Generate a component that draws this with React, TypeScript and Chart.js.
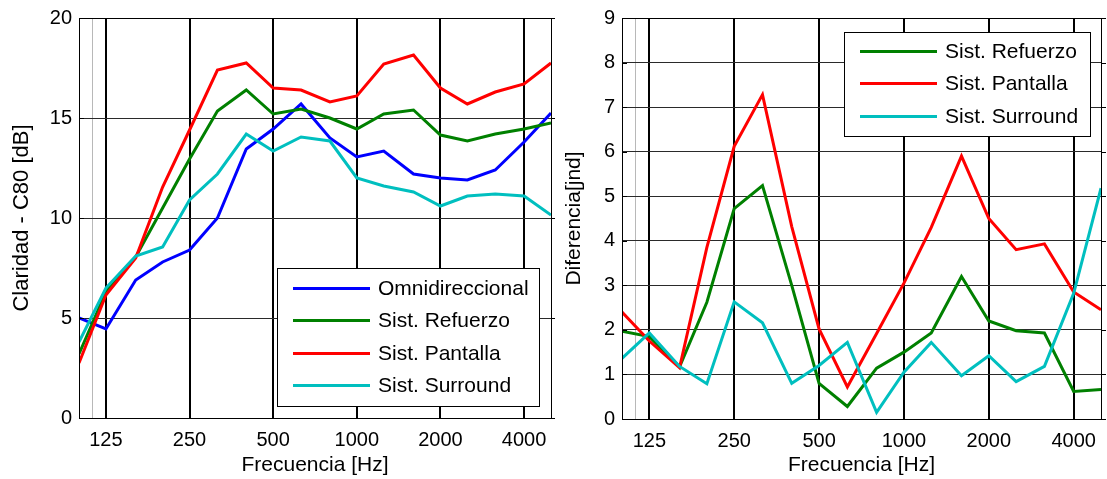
import React, { useEffect, useRef } from 'react';
import { Chart, registerables } from 'chart.js';

Chart.register(...registerables);

// ---------------- DATA ----------------
const frequencies = [100, 125, 160, 200, 250, 315, 400, 500, 630, 800, 1000, 1250, 1600, 2000, 2500, 3150, 4000, 5000];

const xTickValues = [112, 125, 250, 500, 1000, 2000, 4000];
const xTickLabels = ['', '125', '250', '500', '1000', '2000', '4000'];

// Left panel: Claridad - C80 [dB]
const c80Omni = [5.0, 4.45, 6.9, 7.8, 8.4, 10.0, 13.45, 14.45, 15.7, 14.0, 13.05, 13.35, 12.2, 12.0, 11.9, 12.4, 13.8, 15.25];
const c80Refuerzo = [3.2, 6.3, 8.05, 10.5, 12.95, 15.35, 16.4, 15.2, 15.45, 15.0, 14.45, 15.2, 15.4, 14.15, 13.85, 14.2, 14.45, 14.75];
const c80Pantalla = [2.75, 6.15, 8.0, 11.55, 14.4, 17.4, 17.75, 16.5, 16.4, 15.8, 16.1, 17.7, 18.15, 16.5, 15.7, 16.3, 16.7, 17.75];
const c80Surround = [3.8, 6.5, 8.1, 8.55, 10.9, 12.2, 14.2, 13.35, 14.05, 13.85, 12.0, 11.6, 11.3, 10.6, 11.1, 11.2, 11.1, 10.15];

// Right panel: Diferencia [jnd]
const difRefuerzo = [1.97, 1.85, 1.17, 2.62, 4.72, 5.24, 3.0, 0.8, 0.28, 1.14, 1.5, 1.93, 3.2, 2.2, 1.98, 1.93, 0.62, 0.66];
const difPantalla = [2.4, 1.75, 1.15, 3.85, 6.12, 7.28, 4.32, 2.02, 0.72, 1.92, 3.05, 4.3, 5.9, 4.5, 3.8, 3.93, 2.85, 2.45];
const difSurround = [1.36, 1.93, 1.18, 0.79, 2.63, 2.16, 0.8, 1.2, 1.72, 0.15, 1.05, 1.72, 0.97, 1.42, 0.84, 1.18, 2.82, 5.18];

const seriesLabels = ['Omnidireccional', 'Sist. Refuerzo', 'Sist. Pantalla', 'Sist. Surround'];
const seriesColors = ['#0000FF', '#008000', '#FF0000', '#00BFBF'];

// ---------------- STYLE ----------------
const FONT_FAMILY = "'Liberation Sans', Arial, Helvetica, sans-serif";
Chart.defaults.font.family = FONT_FAMILY;
Chart.defaults.color = '#000';

const framePlugin = {
  id: 'frame',
  afterDatasetsDraw(chart: any) {
    const { ctx, chartArea } = chart;
    const left = Math.round(chartArea.left);
    const right = Math.round(chartArea.right);
    const top = Math.round(chartArea.top);
    const bottom = Math.round(chartArea.bottom);
    ctx.save();
    ctx.strokeStyle = '#000';
    ctx.lineWidth = 1;
    ctx.strokeRect(left + 0.5, top + 0.5, right - left, bottom - top);
    const ys = chart.scales.y;
    ctx.beginPath();
    ys.ticks.forEach((t: any) => {
      const py = Math.round(ys.getPixelForValue(t.value)) + 0.5;
      ctx.moveTo(left, py);
      ctx.lineTo(left + 5, py);
      ctx.moveTo(right, py);
      ctx.lineTo(right + 5, py);
    });
    ctx.stroke();
    ctx.restore();
  },
};

const boxLegendPlugin = {
  id: 'boxLegend',
  afterDraw(chart: any, _args: any, opts: any) {
    const { ctx, chartArea } = chart;
    const w = opts.width;
    const h = opts.height;
    const x = Math.round(chartArea.right - opts.right - w);
    const y = Math.round(opts.top != null ? chartArea.top + opts.top : chartArea.bottom - opts.bottom - h);
    ctx.save();
    ctx.fillStyle = '#fff';
    ctx.fillRect(x, y, w, h);
    ctx.strokeStyle = '#000';
    ctx.lineWidth = 1;
    ctx.strokeRect(x + 0.5, y + 0.5, w, h);
    ctx.font = `${opts.fontSize}px ${FONT_FAMILY}`;
    ctx.textBaseline = 'middle';
    ctx.textAlign = 'left';
    chart.data.datasets.forEach((ds: any, i: number) => {
      const cy = Math.round(y + opts.firstRow + i * opts.rowGap) + 0.5;
      ctx.strokeStyle = ds.borderColor;
      ctx.lineWidth = 3;
      ctx.beginPath();
      ctx.moveTo(x + opts.lineStart, cy);
      ctx.lineTo(x + opts.lineEnd, cy);
      ctx.stroke();
      ctx.fillStyle = '#000';
      ctx.fillText(ds.label, x + opts.textStart, cy + 1);
    });
    ctx.restore();
  },
};

type PanelProps = {
  series: number[][];
  labels: string[];
  colors: string[];
  yMax: number;
  yStep: number;
  yTitle: string;
  yTitleSize: number;
  yAxisWidth: number;
  yTitlePad: number;
  xAxisHeight: number;
  padRight: number;
  legend: any;
  width: number;
  left: number;
};

function Panel(p: PanelProps) {
  const ref = useRef<HTMLCanvasElement | null>(null);
  useEffect(() => {
    if (!ref.current) return;
    const n = p.series.length;
    const datasets = p.series.map((vals, i) => ({
      label: p.labels[i],
      data: frequencies.map((f, k) => ({ x: f, y: vals[k] })),
      borderColor: p.colors[i],
      backgroundColor: p.colors[i],
      borderWidth: 3,
      pointRadius: 0,
      fill: false,
      tension: 0,
      order: n - 1 - i,
    }));
    const chart = new Chart(ref.current, {
      type: 'line',
      data: { datasets },
      options: {
        animation: false,
        responsive: false,
        devicePixelRatio: 1,
        layout: { padding: { top: 18, right: p.padRight, bottom: 0, left: 0 } },
        plugins: {
          legend: { display: false },
          tooltip: { enabled: false },
          boxLegend: p.legend,
        } as any,
        scales: {
          x: {
            type: 'logarithmic',
            min: 100,
            max: 5000,
            afterBuildTicks: (s: any) => {
              s.ticks = xTickValues.map((v) => ({ value: v }));
            },
            afterFit: (s: any) => {
              s.height = p.xAxisHeight;
              s.paddingLeft = 0;
              s.paddingRight = 0;
            },
            ticks: {
              autoSkip: false,
              maxRotation: 0,
              padding: 10,
              color: '#000',
              font: { size: 20 },
              callback: (_v: any, i: number) => xTickLabels[i],
            },
            grid: {
              drawTicks: false,
              color: (c: any) => (c.tick && c.tick.value === 112 ? '#b8b8b8' : '#000'),
              lineWidth: (c: any) => (c.tick && c.tick.value === 112 ? 1 : 2),
            },
            border: { display: false },
            title: {
              display: true,
              text: 'Frecuencia [Hz]',
              color: '#000',
              font: { size: 21 },
              padding: { top: 0, bottom: 1 },
            },
          } as any,
          y: {
            type: 'linear',
            min: 0,
            max: p.yMax,
            afterFit: (s: any) => {
              s.width = p.yAxisWidth;
              s.paddingTop = 0;
              s.paddingBottom = 0;
            },
            ticks: {
              stepSize: p.yStep,
              padding: 7,
              color: '#000',
              font: { size: 20 },
            },
            grid: {
              drawTicks: false,
              color: '#2a2a2a',
              lineWidth: 1,
            },
            border: { display: false },
            title: {
              display: true,
              text: p.yTitle,
              color: '#000',
              font: { size: p.yTitleSize },
              padding: { top: p.yTitlePad, bottom: 0 },
            },
          } as any,
        },
      },
      plugins: [framePlugin, boxLegendPlugin],
    } as any);
    return () => chart.destroy();
  }, []);
  return (
    <canvas
      ref={ref}
      width={p.width}
      height={479}
      style={{ position: 'absolute', left: p.left, top: 0, width: p.width, height: 479 }}
    />
  );
}

export default function App() {
  return (
    <div style={{ position: 'absolute', left: 0, top: 0, width: 1107, height: 479, background: '#fff' }}>
      <Panel
        series={[c80Omni, c80Refuerzo, c80Pantalla, c80Surround]}
        labels={seriesLabels}
        colors={seriesColors}
        yMax={20}
        yStep={5}
        yTitle="Claridad - C80 [dB]"
        yTitleSize={22}
        yAxisWidth={79}
        yTitlePad={9}
        xAxisHeight={61}
        padRight={4}
        width={555}
        left={0}
        legend={{ right: 12, bottom: 12, width: 262, height: 138, firstRow: 19.5, rowGap: 32.5, lineStart: 16, lineEnd: 93, textStart: 101, fontSize: 21 }}
      />
      <Panel
        series={[difRefuerzo, difPantalla, difSurround]}
        labels={seriesLabels.slice(1)}
        colors={seriesColors.slice(1)}
        yMax={9}
        yStep={1}
        yTitle="Diferencia[jnd]"
        yTitleSize={21}
        yAxisWidth={67}
        yTitlePad={7}
        xAxisHeight={60}
        padRight={6}
        width={552}
        left={555}
        legend={{ right: 11, top: 14, width: 246, height: 104, firstRow: 18.7, rowGap: 32.5, lineStart: 16, lineEnd: 93, textStart: 101, fontSize: 21 }}
      />
    </div>
  );
}
